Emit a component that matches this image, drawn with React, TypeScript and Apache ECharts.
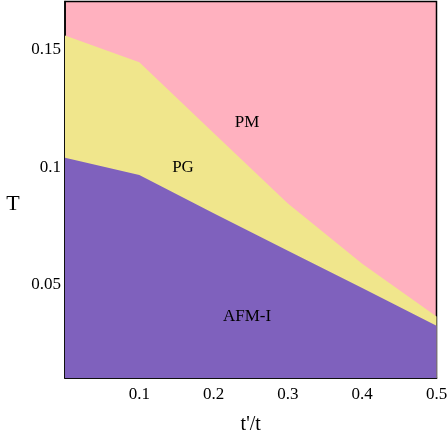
import React, { useEffect, useRef } from "react";
import * as echarts from "echarts";

const xValues = [0, 0.1, 0.2, 0.3, 0.4, 0.5];
const afmUpper = [0.1036, 0.0963, 0.08, 0.0641, 0.0483, 0.0322];
const pgUpper = [0.1555, 0.1442, 0.1141, 0.0842, 0.0585, 0.0361];
const yTickLabels = ["0.05", "0.1", "0.15"];
const xTickLabels = ["0.1", "0.2", "0.3", "0.4", "0.5"];
const regionLabels = [
  { text: "PM", x: 247, y: 121 },
  { text: "PG", x: 183, y: 166 },
  { text: "AFM-I", x: 247, y: 315 },
];

const FONT = "'Liberation Serif', 'DejaVu Serif', serif";
const PINK = "#FFB1BF";
const YELLOW = "#F0E68C";
const PURPLE = "#7F61BD";

export default function App() {
  const ref = useRef<HTMLDivElement>(null);
  useEffect(() => {
    if (!ref.current) return;
    const chart = echarts.init(ref.current, undefined, { renderer: "svg" });
    const fmt = (list: string[]) => (v: number) => {
      const s = String(Math.round(v * 1000) / 1000);
      return list.includes(s) ? s : "";
    };
    chart.setOption({
      animation: false,
      grid: {
        left: 65,
        top: 1.5,
        right: 10.5,
        bottom: 58,
        show: true,
        containLabel: false,
        outerBoundsMode: "none",
        backgroundColor: PINK,
        borderColor: "#000",
        borderWidth: 1.5,
      },
      xAxis: {
        type: "value",
        min: 0,
        max: 0.5,
        interval: 0.1,
        name: "t'/t",
        nameLocation: "middle",
        nameGap: 35,
        nameTextStyle: { fontFamily: FONT, fontSize: 20, color: "#000" },
        axisLine: { show: true, onZero: false, lineStyle: { color: "#000", width: 1.5 } },
        axisTick: { show: false },
        splitLine: { show: false },
        axisLabel: {
          fontFamily: FONT,
          fontSize: 17,
          color: "#000",
          margin: 7,
          formatter: fmt(xTickLabels),
        },
      },
      yAxis: {
        type: "value",
        min: 0.01,
        max: 0.17,
        interval: 0.01,
        axisLine: { show: true, onZero: false, lineStyle: { color: "#000", width: 1.5 } },
        axisTick: { show: false },
        splitLine: { show: false },
        axisLabel: {
          fontFamily: FONT,
          fontSize: 17,
          color: "#000",
          margin: 4,
          formatter: fmt(yTickLabels),
        },
      },
      graphic: [
        {
          type: "text",
          x: 13,
          y: 202,
          style: {
            text: "T",
            font: `22px ${FONT}`,
            fill: "#000",
            align: "center",
            verticalAlign: "middle",
          },
        },
        ...regionLabels.map((l) => ({
          type: "text",
          x: l.x,
          y: l.y,
          z: 100,
          style: {
            text: l.text,
            font: `17px ${FONT}`,
            fill: "#000",
            align: "center",
            verticalAlign: "middle",
          },
        })),
      ],
      series: [
        {
          type: "line",
          data: xValues.map((x, i) => [x, pgUpper[i]]),
          showSymbol: false,
          symbol: "none",
          lineStyle: { width: 0 },
          areaStyle: { color: YELLOW, opacity: 1, origin: "start" },
          z: 1,
        },
        {
          type: "line",
          data: xValues.map((x, i) => [x, afmUpper[i]]),
          showSymbol: false,
          symbol: "none",
          lineStyle: { width: 0 },
          areaStyle: { color: PURPLE, opacity: 1, origin: "start" },
          z: 2,
        },
      ],
    });
    return () => chart.dispose();
  }, []);
  return (
    <div
      ref={ref}
      style={{ position: "fixed", left: 0, top: 0, width: 447, height: 436 }}
    />
  );
}
